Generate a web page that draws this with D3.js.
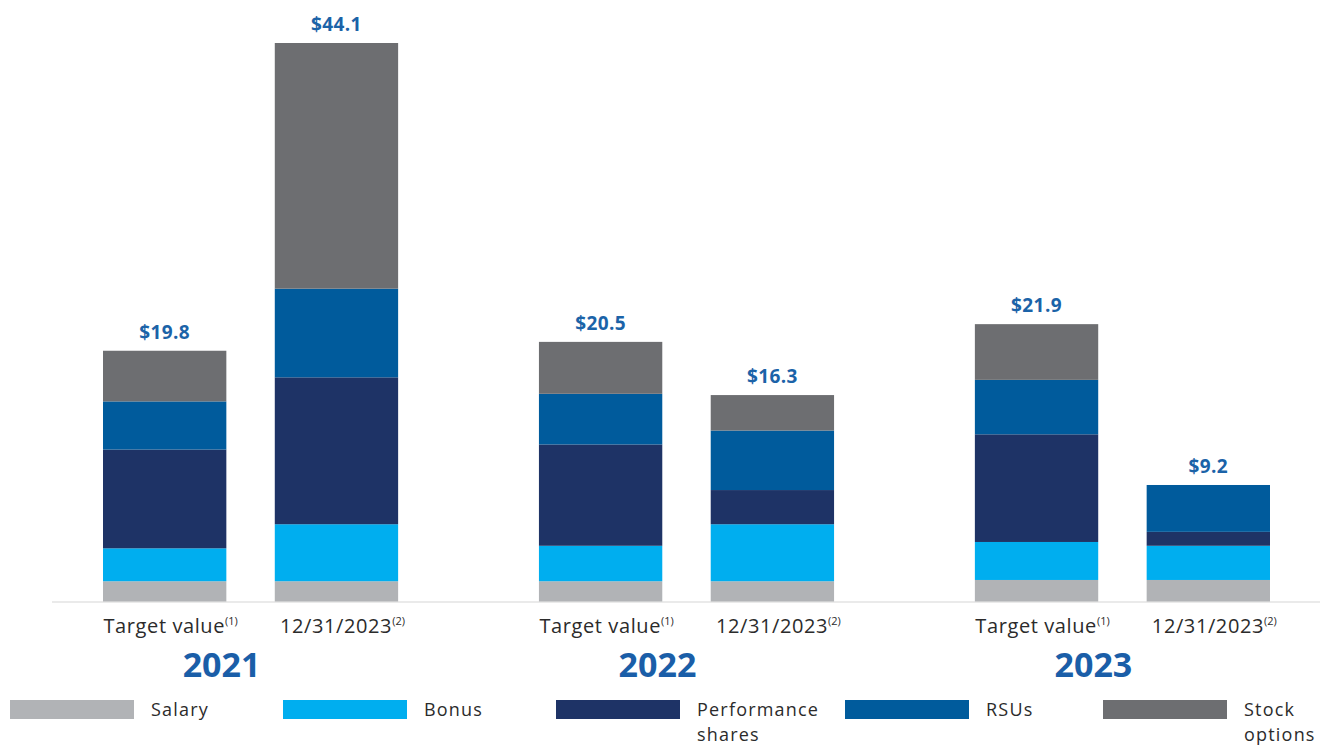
<!DOCTYPE html>
<html><head><meta charset="utf-8">
<script src="https://cdn.jsdelivr.net/npm/d3@7"></script>
<style>body{margin:0;background:#fff}</style>
</head><body>
<svg id="c" width="1332" height="746"></svg>
<script>
const years = ["2021","2022","2023"];
const kinds = ["Target value","12/31/2023"];
const kindNotes = ["(1)","(2)"];
const seriesNames = ["Salary","Bonus","Performance shares","RSUs","Stock options"];
const legendLines = [["Salary"],["Bonus"],["Performance","shares"],["RSUs"],["Stock","options"]];
// values in $M, order: [2021 target, 2021 12/31, 2022 target, 2022 12/31, 2023 target, 2023 12/31]
const salary = [1.6, 1.6, 1.6, 1.6, 1.7, 1.7];
const bonus  = [2.6, 4.5, 2.8, 4.5, 3.0, 2.7];
const perf   = [7.8, 11.6, 8.0, 2.7, 8.5, 1.1];
const rsus   = [3.8, 7.0, 4.0, 4.7, 4.3, 3.7];
const stock  = [4.0, 19.4, 4.1, 2.8, 4.4, 0];
const totals = ["$19.8","$44.1","$20.5","$16.3","$21.9","$9.2"];
const colors = ["#b1b3b6","#00aeef","#1e3366","#005b9c","#6d6e71"];

const rows = [];
years.forEach((y,i)=>kinds.forEach((k,j)=>{
  const n=i*2+j;
  rows.push({year:y,kind:k,Salary:salary[n],Bonus:bonus[n],"Performance shares":perf[n],RSUs:rsus[n],"Stock options":stock[n],total:totals[n]});
}));

const svg = d3.select("#c");
const font = "'Open Sans', sans-serif";
const baseY = 601.5;
const y = d3.scaleLinear().domain([0,44.1]).range([baseY, 43]);
const x0 = d3.scaleBand().domain(years).range([103,1270]).paddingInner(0.323).paddingOuter(0);
const x1 = d3.scaleBand().domain(kinds).range([0,x0.bandwidth()]).paddingInner(0.282).paddingOuter(0);
const color = d3.scaleOrdinal().domain(seriesNames).range(colors);

const stacked = d3.stack().keys(seriesNames)(rows);

// baseline
svg.append("line").attr("x1",52).attr("x2",1320).attr("y1",baseY+0.5).attr("y2",baseY+0.5)
  .attr("stroke","#e3e3e3").attr("stroke-width",1.5);

svg.append("g").selectAll("g").data(stacked).join("g")
  .attr("fill",d=>color(d.key))
  .selectAll("rect").data(d=>d).join("rect")
  .attr("x",d=>x0(d.data.year)+x1(d.data.kind))
  .attr("width",x1.bandwidth())
  .attr("y",d=>y(d[1]))
  .attr("height",d=>Math.max(0,y(d[0])-y(d[1])));

// total labels
svg.append("g").selectAll("text").data(rows).join("text")
  .attr("x",d=>x0(d.year)+x1(d.kind)+x1.bandwidth()/2)
  .attr("y",d=>y(d.Salary+d.Bonus+d["Performance shares"]+d.RSUs+d["Stock options"])-12)
  .attr("text-anchor","middle").attr("font-family",font).attr("font-weight",700)
  .attr("font-size",19).attr("letter-spacing",0.4).attr("fill","#1b63a8").text(d=>d.total);

// category labels
const cat = svg.append("g").selectAll("text").data(rows).join("text")
  .attr("x",d=>x0(d.year)+x1(d.kind)+x1.bandwidth()/2+6)
  .attr("y",633).attr("text-anchor","middle").attr("font-family",font)
  .attr("font-size",20).attr("letter-spacing",0.6).attr("fill","#2b2b2b");
cat.append("tspan").text(d=>d.kind);
cat.append("tspan").attr("font-size",11).attr("letter-spacing",0).attr("dy",-8).text(d=>kindNotes[kinds.indexOf(d.kind)]);

// year labels
svg.append("g").selectAll("text").data(years).join("text")
  .attr("x",d=>x0(d)+x0.bandwidth()/2-29).attr("y",677)
  .attr("text-anchor","middle").attr("font-family",font).attr("font-weight",700)
  .attr("font-size",34).attr("fill","#1a5ea8").text(d=>d);

// legend
const legX = [10,283,556,845,1103];
const lg = svg.append("g").selectAll("g").data(seriesNames).join("g")
  .attr("transform",(d,i)=>`translate(${legX[i]},700)`);
lg.append("rect").attr("width",124).attr("height",19).attr("fill",d=>color(d));
lg.append("text").attr("x",141).attr("y",16).attr("font-family",font).attr("font-size",18)
  .attr("letter-spacing",1.2).attr("fill","#2b2b2b")
  .selectAll("tspan").data((d,i)=>legendLines[i]).join("tspan")
  .attr("x",141).attr("dy",(d,i)=>i===0?0:25).text(d=>d);
</script>
</body></html>
